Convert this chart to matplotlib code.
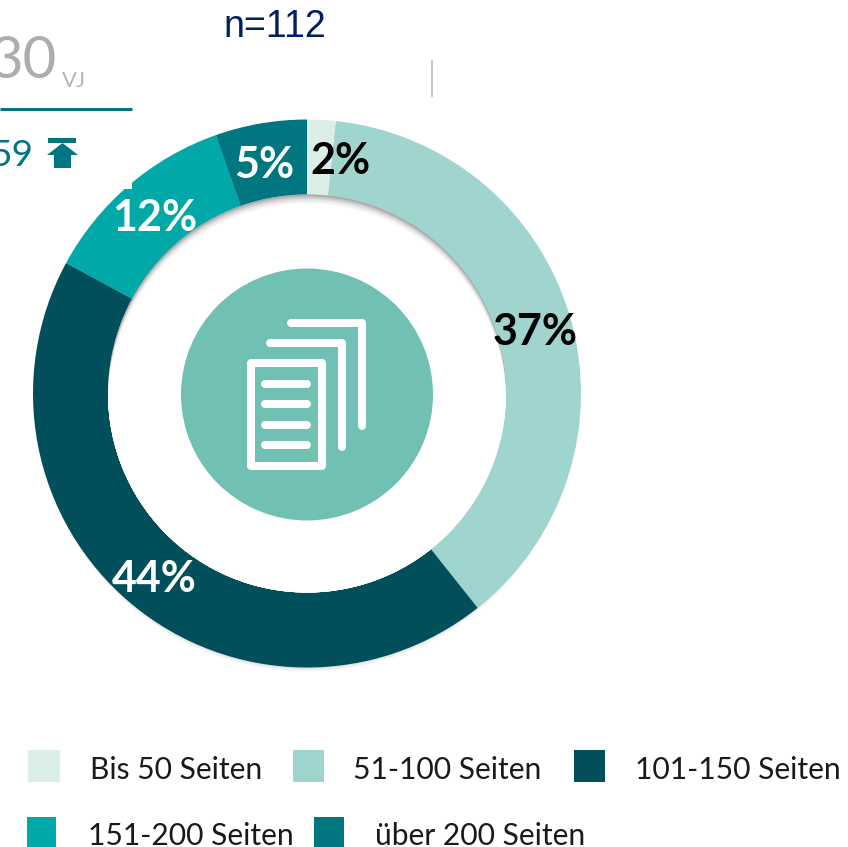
import matplotlib
matplotlib.use("Agg")
import matplotlib.pyplot as plt
from matplotlib.patches import Circle, Rectangle, Polygon

categories = ["Bis 50 Seiten", "51-100 Seiten", "101-150 Seiten", "151-200 Seiten", "über 200 Seiten"]
values = [1.7, 37.6, 43.6, 11.7, 5.4]
colors = ["#DCEEE8", "#9FD4CF", "#004F5A", "#00A9A8", "#007780"]
pct_labels = ["2%", "37%", "44%", "12%", "5%"]
pct_colors = ["black", "black", "white", "white", "white"]
pct_pos = [(340, 157), (535, 328), (154, 576), (155, 214), (264, 161)]

W, H = 848, 847
fig = plt.figure(figsize=(W / 100, H / 100), dpi=100, facecolor="white")
ax = fig.add_axes([0, 0, 1, 1])
Y = lambda y: H - y
px = lambda p: p * 0.72
F = "Lato"

cx, cy, R, r = 307, 393.5, 274, 199

# soft shadow below the ring's outer edge
for off, col in [(7, "#f6f6f6"), (5.5, "#ececec"), (4, "#dedede"), (2.5, "#cdcdcd"), (1, "#b8b8b8")]:
    ax.add_patch(Circle((cx, Y(cy + off)), R - 3, fc=col, ec="none", zorder=0))

ax.pie(values, colors=colors, startangle=90, counterclock=False, center=(cx, Y(cy)),
       radius=R, wedgeprops=dict(width=R - r, linewidth=0), frame=True)
ax.set_xlim(0, W)
ax.set_ylim(0, H)
ax.set_aspect("equal")
ax.axis("off")

# soft shadow inside the hole (cast downward from the ring's upper edge), clipped to the hole
hole = Circle((cx, Y(cy)), r, fc="#aaaaaa", ec="none", zorder=3)
ax.add_patch(hole)
for off, col in [(1.5, "#c0c0c0"), (3, "#d4d4d4"), (4.5, "#e3e3e3"),
                 (6, "#eeeeee"), (7.5, "#f7f7f7"), (9, "#ffffff")]:
    c = Circle((cx, Y(cy + off)), r, fc=col, ec="none", zorder=3)
    ax.add_patch(c)
    c.set_clip_path(hole)

# centre disc and icon
ax.add_patch(Circle((cx, Y(394.5)), 126, fc="#70C1B3", ec="none", zorder=4))
ic = dict(color="white", lw=px(8), solid_capstyle="round", solid_joinstyle="round", zorder=5)
ax.plot([290.7, 362.3, 362.3], [Y(323.3), Y(323.3), Y(425.7)], **ic)
ax.plot([270, 341.7, 341.7], [Y(343.3), Y(343.3), Y(446.7)], **ic)
ax.add_patch(Rectangle((250.7, Y(465.7)), 71.3, 102.7, fc="none", ec="white", lw=px(8),
                       joinstyle="round", zorder=5))
for yy in (384, 404.3, 424.7, 445):
    ax.plot([265, 307.3], [Y(yy), Y(yy)], **ic)

# header fragments
ax.add_patch(Rectangle((0, Y(189)), 132, 60, fc="white", ec="none", zorder=2))
ax.text(57, Y(78), "30", family=F, fontsize=px(58), color="#ADADAD", ha="right", va="baseline", zorder=6)
ax.text(62, Y(87), "VJ", family=F, fontsize=px(22), color="#B5B5B5", ha="left", va="baseline", zorder=6)
ax.plot([0, 132], [Y(108.5), Y(108.5)], color="#007780", lw=px(3), solid_capstyle="butt", zorder=6)
ax.text(34, Y(166), "59", family=F, fontsize=px(37), color="#007780", ha="right", va="baseline", zorder=6)
ax.add_patch(Rectangle((48, Y(143)), 28, 5.5, fc="#007780", ec="none", zorder=6))
ax.add_patch(Polygon([(x, Y(y)) for x, y in
                      [(62.5, 143), (78, 155), (71, 155), (71, 168), (54, 168), (54, 155), (47, 155)]],
                     fc="#007780", ec="none", zorder=6))
ax.plot([431.5, 431.5], [Y(61), Y(96)], color="#C8C8C8", lw=px(2), zorder=6)
ax.text(275, Y(37), "n=112", family="Liberation Sans", fontsize=px(37.5), color="#002060",
        ha="center", va="baseline", zorder=6)

# percentage labels
for lab, col, (x, y) in zip(pct_labels, pct_colors, pct_pos):
    ax.text(x, Y(y), lab, family=F, fontweight="bold", fontsize=px(43), color=col,
            ha="center", va="center_baseline", zorder=6)

# legend
boxes = [(28, 750, 32, 32), (293, 750, 31, 32), (574, 750, 31, 32), (27, 817, 29, 32), (314, 817, 30, 32)]
text_x = [90, 353, 635, 88, 375]
text_y = [779, 779, 779, 845, 845]
for (x, y, w, h), c, lab, tx, ty in zip(boxes, colors, categories, text_x, text_y):
    ax.add_patch(Rectangle((x, Y(y + h)), w, h, fc=c, ec="none", zorder=6))
    ax.text(tx, Y(ty), lab, family=F, fontsize=px(30), color="#1a1a1a", ha="left", va="baseline", zorder=6)

fig.savefig("out.png", dpi=100)
